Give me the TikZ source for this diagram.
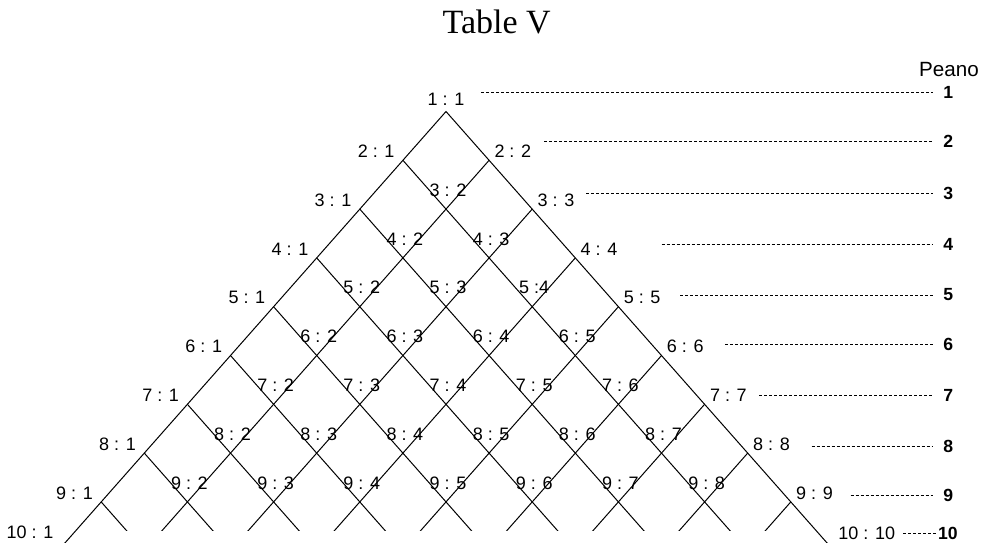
\documentclass[tikz,border=0pt]{standalone}
\usepackage{fontspec}
\setmainfont{Liberation Serif}
\setsansfont{Liberation Sans}
\usetikzlibrary{calc}

\tikzset{
  ratio/.style={font=\sffamily\fontsize{9}{10}\selectfont, inner sep=0pt},
  peano/.style={font=\sffamily\bfseries\fontsize{8.8}{10}\selectfont, inner ysep=0pt, inner xsep=5pt, anchor=west},
  grid line/.style={line width=0.5pt},
  level line/.style={line width=0.5pt, dash pattern=on 1.5pt off 1pt},
}

\begin{document}
\begin{tikzpicture}[x=0.5pt, y=-0.5pt]
  \useasboundingbox (0,0) rectangle (985,542);

  % Title
  \node[font=\fontsize{17}{20}\selectfont] (title) at (496.7,21.7) {Table V};

  % 1. Lattice points (row n, place k)
  \foreach \n in {1,...,10}
    \foreach \k in {1,...,\n} {
      \pgfmathsetmacro\vx{446+(2*\k-\n-1)*43.1}
      \pgfmathsetmacro\vy{111.5+(\n-1)*48.8}
      \coordinate (v-\n-\k) at (\vx,\vy);
    }

  % 2. Inner grid lines, cut off below row 9
  \begin{scope}
    \clip (0,0) rectangle (985,530);
    \foreach \n in {2,...,9} {
      \pgfmathtruncatemacro\m{11-\n}
      \draw[grid line] (v-\n-1) -- (v-10-\m);
      \draw[grid line] (v-\n-\n) -- (v-10-\n);
    }
  \end{scope}
  % Outer sides
  \draw[grid line] (v-10-1) -- (v-1-1) -- (v-10-10);

  % 3. Ratios
  \node[ratio] (l-1-1) at (446,99.5) {1 : 1};
  \foreach \n in {2,...,9} {
    \node[ratio, anchor=east] (l-\n-1) at ($(v-\n-1)+(-8,-9)$) {\n{} : 1};
    \node[ratio, anchor=west] (l-\n-\n) at ($(v-\n-\n)+(5,-9)$) {\n{} : \n};
  }
  \foreach \n in {3,...,9} {
    \pgfmathtruncatemacro\last{\n-1}
    \foreach \k in {2,...,\last}
      \node[ratio] (l-\n-\k) at ($(v-\n-\k)+(2,-19)$)
        {\ifnum\n\k=54 \n{} :\k\else\n{} : \k\fi};
  }
  \node[ratio] (l-10-1) at (30,532) {10 : 1};
  \node[ratio] (l-10-10) at (866.7,533) {10 : 10};

  % 4. Peano numbers with dotted guides
  \node[font=\sffamily\fontsize{10.3}{12}\selectfont] (peano) at (949,69.5) {Peano};
  \foreach \n/\sx/\y in {1/481/92.3, 2/544/141.7, 3/586/193.3, 4/661.7/244,
                         5/680/295, 6/725/344.3, 7/759.3/395.7, 8/811.7/446.7,
                         9/850.7/495.7} {
    \coordinate (d\n) at (\sx,\y);
    \node[peano] (p\n) at (933,\y) {\n};
    \draw[level line] (d\n) -- (p\n.west);
  }
  \coordinate (d10) at (903.3,533.3);
  \node[peano, inner xsep=0.8pt] (p10) at (936,533.3) {10};
  \draw[level line] (d10) -- (p10.west);
\end{tikzpicture}
\end{document}
